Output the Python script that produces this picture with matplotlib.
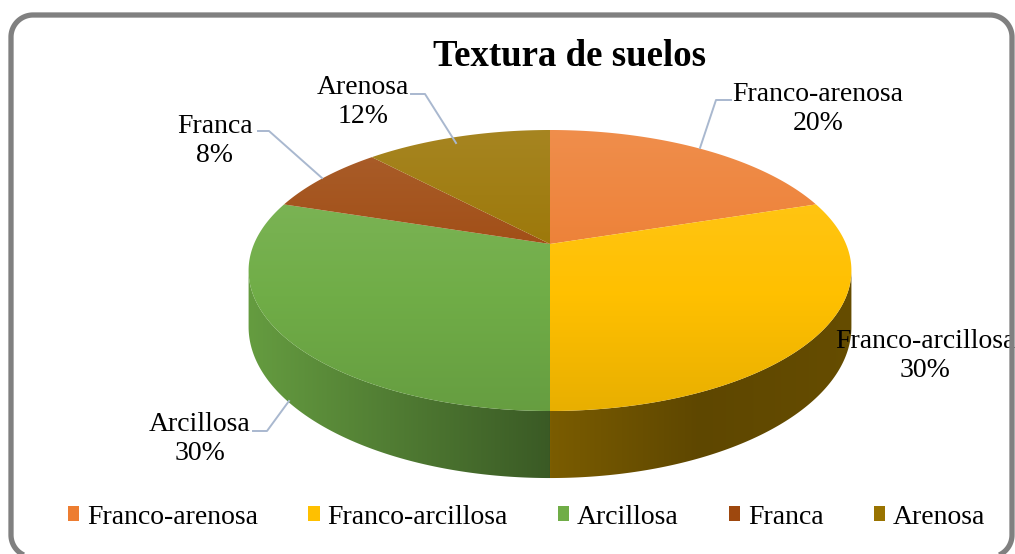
import matplotlib
matplotlib.use("Agg")
import matplotlib.pyplot as plt
import numpy as np
from matplotlib.patches import Polygon, Patch
from matplotlib.colors import to_rgb

# data
categorias = ["Franco-arenosa", "Franco-arcillosa", "Arcillosa", "Franca", "Arenosa"]
valores = [20, 30, 30, 8, 12]
colores = ["#ED7D31", "#FFC000", "#70AD47", "#9E480E", "#997300"]
titulo = "Textura de suelos"

plt.rcParams['font.family'] = ['Liberation Serif', 'DejaVu Serif']

W, H = 1015, 554
fig = plt.figure(figsize=(W / 100, H / 100), dpi=100)
ax = fig.add_axes([0, 0, 1, 1])

# perspective pie geometry (pixels)
cx, cy = 550, 244
sx, ty, k = 296, 135.5, 0.1886
depth = 54.4


def proj(theta, drop=0.0):
    u, v = np.sin(theta), np.cos(theta)
    den = 1 + k * v
    return cx + sx * u / den, cy - ty * v / den + drop * depth / den


def grad_fill(pts, color, horiz, f0, f1, x0, x1, y0, y1, fmid=None):
    patch = Polygon(pts, closed=True, facecolor='none', edgecolor='none',
                    transform=ax.transData)
    ax.add_patch(patch)
    c = np.array(to_rgb(color))
    n = 200
    t = np.linspace(0, 1, n)
    if horiz:
        fac = np.interp(np.linspace(x0, x1, n), fmid[0], fmid[1])
        img = np.clip(c[None, None, :] * fac[None, :, None], 0, 1)
    else:
        white = np.ones(3)
        mix = f0 + (f1 - f0) * t
        rows = []
        for m in mix:
            if m >= 0:
                rows.append(c * (1 - m) + white * m)
            else:
                rows.append(c * (1 + m))
        img = np.array(rows)[:, None, :]
    im = ax.imshow(img, extent=(x0, x1, y1, y0), origin='upper',
                   aspect='auto', interpolation='bilinear', zorder=2)
    im.set_clip_path(patch)


total = sum(valores)
bounds = np.concatenate([[0], np.cumsum(valores)]) / total * 2 * np.pi
tmin = np.arccos(-k)
tmax = 2 * np.pi - tmin

# side walls
side_profile = ([249, 550, 551, 700, 860], [0.9, 0.52, 0.48, 0.37, 0.40])
for i in range(len(valores)):
    a, b = max(bounds[i], tmin), min(bounds[i + 1], tmax)
    if a >= b:
        continue
    th = np.linspace(a, b, 200)
    top = np.array([proj(t) for t in th])
    bot = np.array([proj(t, 1) for t in th])[::-1]
    pts = np.vstack([top, bot])
    grad_fill(pts, colores[i], True, 0, 0, 240, 860, 120, 500, side_profile)

# top faces
for i in range(len(valores)):
    th = np.linspace(bounds[i], bounds[i + 1], 200)
    pts = np.vstack([[cx, cy], [proj(t) for t in th]])
    grad_fill(pts, colores[i], False, 0.13, -0.09, 240, 860, 128, 413)

# leader lines
leader = "#A9B8CF"
lineas = [
    ([731, 716, 700], [100, 100, 148]),
    ([411, 425, 456], [94, 94, 143]),
    ([258, 269, 322], [131, 131, 178]),
    ([253, 267, 289], [431, 431, 401]),
]
for xs, ys in lineas:
    ax.plot(xs, ys, color=leader, lw=1.4, zorder=3)

# data labels
pos_labels = [(818, 109), (925, 356), (200, 439), (215, 141), (363, 102)]
for (x, y), cat, v in zip(pos_labels, categorias, valores):
    ax.text(x, y, f"{cat}\n{v / total * 100:.0f}%", ha='center', va='center',
            fontsize=20, linespacing=1.2, zorder=4)

ax.text(570, 57, titulo, ha='center', va='center', fontsize=26.5,
        fontweight='bold', zorder=4)

# legend
handles = [Patch(facecolor=c, edgecolor='none') for c in colores]
ax.legend(handles, categorias, loc='center', bbox_to_anchor=(0.519, 1 - 517 / H),
          ncol=5, frameon=False, fontsize=20, handlelength=0.4, handleheight=0.45,
          handletextpad=0.29, columnspacing=1.8, borderpad=0, borderaxespad=0)

# chart frame (rounded rectangle)
l, r, t, b, rad = 11, 1012, 15, 557, 22
pts_frame = []
for (ccx, ccy, a0, a1) in [(r - rad, t + rad, -90, 0), (r - rad, b - rad, 0, 90),
                           (l + rad, b - rad, 90, 180), (l + rad, t + rad, 180, 270)]:
    ang = np.radians(np.linspace(a0, a1, 30))
    pts_frame.extend(zip(ccx + rad * np.cos(ang), ccy + rad * np.sin(ang)))
ax.add_patch(Polygon(pts_frame, closed=True, facecolor='none', edgecolor='#808080',
                     lw=3.8, joinstyle='round', zorder=5, clip_on=False))

ax.set_xlim(0, W)
ax.set_ylim(H, 0)
ax.axis('off')
fig.savefig("out.png", dpi=100)
